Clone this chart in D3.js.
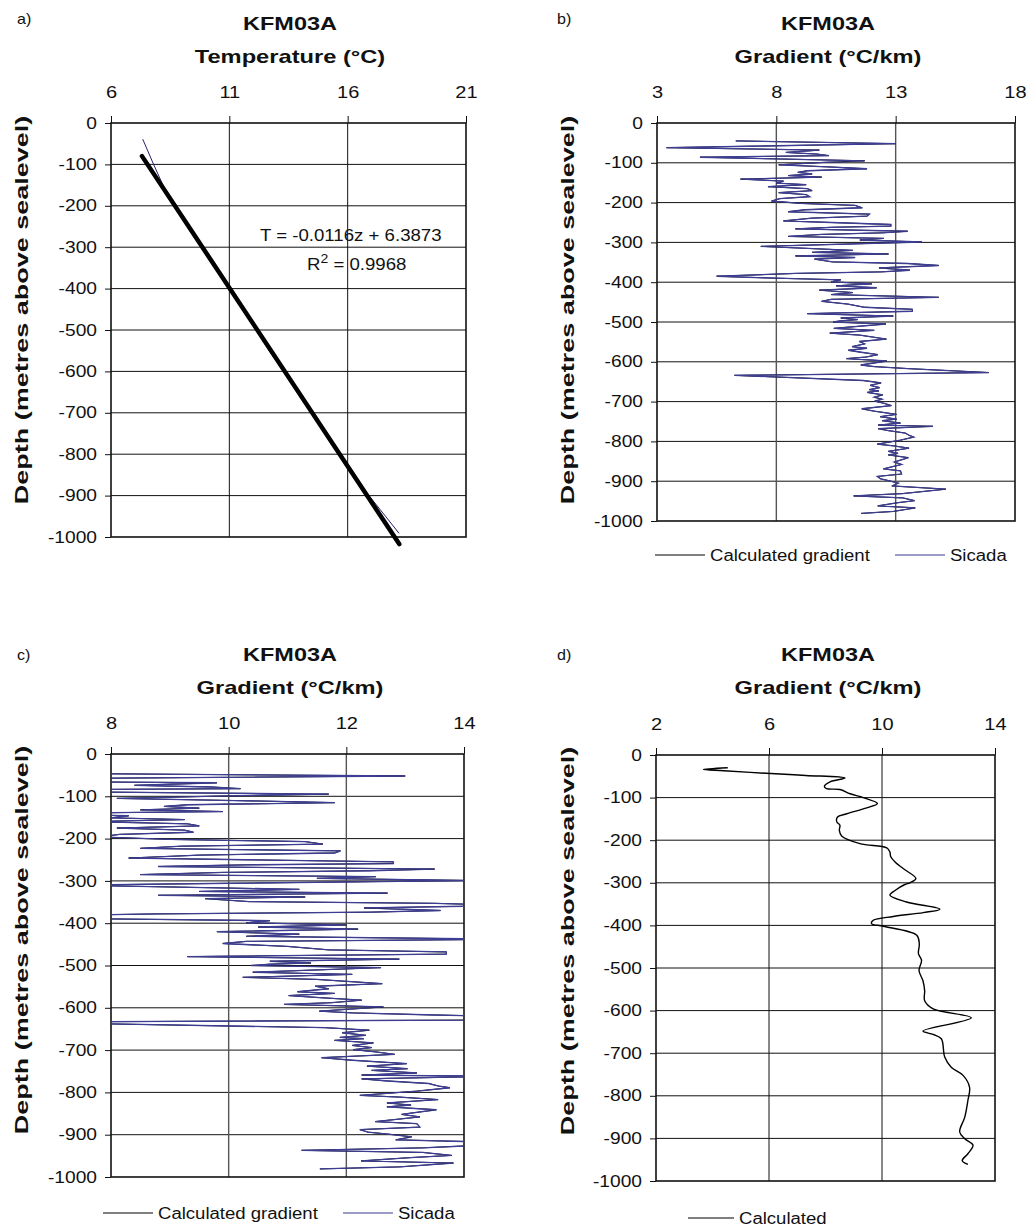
<!DOCTYPE html>
<html>
<head>
<meta charset="utf-8">
<script src="https://cdn.jsdelivr.net/npm/d3@7"></script>
<style>
  body { margin: 0; background: #fff; }
  svg text { font-family: "Liberation Sans", Arial, sans-serif; fill: #111; }
</style>
</head>
<body>
<svg id="chart" width="1027" height="1229"></svg>
<script>
// ---- data ----
const depthTicks = [0, -100, -200, -300, -400, -500, -600, -700, -800, -900, -1000];
const tempTicks = [6, 11, 16, 21];
const gradTicksB = [3, 8, 13, 18];
const gradTicksC = [8, 10, 12, 14];
const gradTicksD = [2, 6, 10, 14];

// a) measured temperature (thin) and fitted line (thick)
const tempDepth = [-39, -100, -162, -230, -300, -400, -500, -560, -637, -700, -760, -830, -900, -950, -991];
const tempMeasured = [7.34, 7.8, 8.29, 9.05, 9.85, 10.97, 12.12, 12.8, 13.72, 14.45, 15.18, 15.99, 16.9, 17.6, 18.17];
const trendDepth = [-80, -1017];
const trendTemp = [7.31, 18.18];

// b) and c) gradient from Sicada / calculated (same logging run)
const gradDepth = [
  -45, -52, -62, -68, -74, -78, -82, -86, -95, -99, -105, -110, -115, -120, -124, -128, -132, -136,
  -141, -146, -151, -155, -160, -165, -170, -175, -180, -185, -190, -196, -202, -207, -213, -218,
  -223, -229, -234, -239, -246, -250, -255, -259, -262, -266, -272, -276, -280, -285, -290, -294,
  -299, -310, -320, -325, -329, -334, -338, -342, -349, -353, -358, -364, -370, -374, -378, -385,
  -390, -394, -399, -404, -409, -414, -420, -426, -431, -438, -443, -448, -455, -463, -468, -473,
  -479, -485, -490, -494, -497, -500, -505, -516, -521, -528, -533, -543, -549, -555, -562, -566,
  -571, -576, -582, -588, -592, -598, -608, -612, -617, -627, -634, -647, -653, -659, -665, -670,
  -673, -677, -683, -689, -694, -699, -704, -710, -718, -724, -732, -738, -744, -748, -754, -759,
  -762, -768, -773, -779, -785, -789, -797, -807, -811, -817, -825, -830, -834, -841, -852, -858,
  -869, -874, -882, -888, -894, -899, -905, -912, -920, -931, -937, -942, -949, -954, -962, -967,
  -976, -981
];
const gradSicada = [
  6.3, 13.0, 3.4, 9.8, 8.4, 9.7, 10.2, 4.8, 11.7, 10.0, 8.1, 10.1, 11.8, 9.3, 8.9, 9.5, 8.5, 9.9,
  6.5, 8.3, 8.0, 9.25, 7.65, 9.3, 9.5, 8.1, 9.25, 9.4, 8.15, 7.8, 9.0, 11.3, 11.6, 9.2,
  8.5, 11.9, 11.8, 9.5, 8.3, 10.3, 12.8, 12.8, 10.3, 8.8, 13.5, 12.4, 9.9, 8.5, 12.5, 11.5,
  14.1, 7.35, 11.2, 9.5, 12.7, 8.8, 11.3, 9.6, 10.35, 13.5, 14.8, 12.3, 13.6, 12.4, 8.8, 5.5,
  8.0, 10.7, 10.3, 12.0, 10.5, 12.2, 9.8, 11.2, 10.3, 14.8, 10.3, 9.9, 11.0, 11.7, 13.7, 13.7,
  9.3, 12.9, 10.7, 11.4, 10.7, 10.38, 12.59, 10.41, 12.1, 10.24, 11.5, 12.61, 11.47, 11.7, 11.17, 11.8,
  11.02, 11.55, 12.26, 11.75, 10.94, 12.63, 11.54, 12.1, 13.5, 16.9, 6.25, 11.64, 12.39, 11.93, 12.33, 11.89,
  12.3, 11.8, 12.46, 12.1, 12.43, 12.12, 12.49, 12.82, 11.58, 12.1, 13.03, 12.35, 13.04, 12.43, 13.2, 12.26,
  14.56, 12.26, 12.7, 13.4, 13.57, 13.76, 13.2, 12.23, 12.9, 13.56, 12.69, 13.1, 12.69, 13.53, 12.94, 13.25,
  12.49, 13.2, 13.25, 12.23, 12.37, 12.74, 13.11, 12.84, 15.1, 13.3, 11.24, 13.3, 13.79, 13.1, 12.25, 13.82,
  12.91, 11.55
];

// d) smoothed calculated gradient
const smoothDepth = [
  -30, -34, -37, -43, -48, -54, -63, -74, -79, -81, -91, -100, -114, -124, -138, -146, -157, -165,
  -177, -190, -208, -218, -228, -239, -251, -267, -290, -300, -304, -318, -329, -345, -362, -370,
  -379, -388, -396, -402, -423, -443, -466, -482, -506, -530, -553, -577, -596, -617, -648, -656,
  -666, -709, -733, -752, -780, -811, -850, -885, -901, -916, -936, -952, -961
];
const smoothGrad = [
  4.54, 3.68, 4.4, 5.9, 7.3, 8.69, 8.16, 7.96, 8.04, 8.51, 8.87, 9.34, 9.84, 9.46, 8.75, 8.42, 8.4, 8.51,
  8.49, 8.57, 9.22, 10.17, 10.28, 10.31, 10.46, 10.76, 11.2, 10.99, 10.81, 10.46, 10.28, 10.87, 12.05, 11.46,
  10.4, 9.69, 9.63, 10.05, 11.23, 11.32, 11.29, 11.4, 11.31, 11.45, 11.51, 11.51, 11.81, 13.16, 11.45, 11.81,
  12.1, 12.22, 12.45, 12.87, 13.1, 13.04, 12.93, 12.75, 12.93, 13.22, 13.04, 12.84, 13.04
];

const sicadaColor = "#3d3d94";
const svg = d3.select("#chart");

// place a text with a horizontal stretch (the original lettering is wider than Arial)
function label(g, x, y, str, opt) {
  opt = opt || {};
  const t = g.append("text")
    .attr("transform", `translate(${x},${y})` + (opt.rotate ? ` rotate(${opt.rotate})` : "") + ` scale(${opt.sx || 1},1)`)
    .attr("text-anchor", opt.anchor || "start")
    .style("font-size", (opt.size || 16) + "px")
    .style("font-weight", opt.bold ? "bold" : "normal")
    .text(str);
  return t;
}

function panel(cfg) {
  const x = d3.scaleLinear().domain(cfg.xDomain).range([cfg.left, cfg.right]);
  const y = d3.scaleLinear().domain([0, -1000]).range([cfg.top, cfg.bottom]);
  const g = svg.append("g");

  // grid
  g.append("g").selectAll("line").data(depthTicks.slice(1, -1)).join("line")
    .attr("x1", cfg.left).attr("x2", cfg.right)
    .attr("y1", d => y(d)).attr("y2", d => y(d))
    .attr("stroke", "#111").attr("stroke-width", 1);
  g.append("g").selectAll("line").data(cfg.xTicks.slice(1, -1)).join("line")
    .attr("x1", d => x(d)).attr("x2", d => x(d))
    .attr("y1", cfg.top).attr("y2", cfg.bottom)
    .attr("stroke", cfg.vGrid || "#111").attr("stroke-width", cfg.vGridW || 1);

  // axes (tick marks outside the frame + labels)
  const ax = g.append("g").attr("transform", `translate(0,${cfg.top})`)
    .call(d3.axisTop(x).tickValues(cfg.xTicks).tickSizeInner(7).tickSizeOuter(0).tickFormat(d => String(d)));
  const ay = g.append("g").attr("transform", `translate(${cfg.left},0)`)
    .call(d3.axisLeft(y).tickValues(depthTicks).tickSizeInner(6).tickSizeOuter(0).tickFormat(d => String(d)));
  [ax, ay].forEach(a => {
    a.select(".domain").remove();
    a.selectAll(".tick line").attr("stroke", "#111").attr("stroke-width", 1);
    a.selectAll("text").style("font-size", "16px").style("font-family", '"Liberation Sans", Arial, sans-serif').attr("fill", "#111");
  });
  ax.selectAll("text").attr("y", 0).attr("dy", 0).attr("transform", "translate(0,-25) scale(1.25,1)");
  ay.selectAll("text").attr("x", 0).attr("transform", "translate(-14,0) scale(1.2,1)");

  // frame
  g.append("rect").attr("x", cfg.left).attr("y", cfg.top)
    .attr("width", cfg.right - cfg.left).attr("height", cfg.bottom - cfg.top)
    .attr("fill", "none").attr("stroke", "#111").attr("stroke-width", 1.6);

  // titles
  label(g, cfg.letterX, cfg.letterY, cfg.letter, { size: 14, sx: 1.15 });
  label(g, cfg.titleX, cfg.titleY, "KFM03A", { size: 18.5, bold: true, anchor: "middle", sx: 1.27 });
  label(g, cfg.titleX, cfg.titleY + 33, cfg.xTitle, { size: 18.5, bold: true, anchor: "middle", sx: 1.28 });
  label(g, cfg.yTitleX, cfg.yTitleY, "Depth (metres above sealevel)", { size: 19, bold: true, anchor: "middle", rotate: -90, sx: 1.42 });

  // clip for data
  const id = "clip" + cfg.letter[0];
  g.append("clipPath").attr("id", id).append("rect")
    .attr("x", cfg.left).attr("y", cfg.top).attr("width", cfg.right - cfg.left).attr("height", cfg.bottom - cfg.top);
  const plot = g.append("g").attr("clip-path", `url(#${id})`);
  return { x, y, g, plot };
}

function legendItem(g, x1, x2, y, color, str) {
  g.append("line").attr("x1", x1).attr("x2", x2).attr("y1", y).attr("y2", y)
    .attr("stroke", color).attr("stroke-width", 1.2);
  label(g, x2 + 5, y + 6, str, { size: 16, sx: 1.16 });
}

// ---- a) temperature ----
const pa = panel({ left: 111, right: 466, top: 123, bottom: 537, xDomain: [6, 21], xTicks: tempTicks,
  letter: "a)", letterX: 17, letterY: 24, titleX: 290, titleY: 30, xTitle: "Temperature (°C)",
  yTitleX: 28, yTitleY: 310 });
const tempPts = tempDepth.map((d, i) => [tempMeasured[i], d]);
const trendPts = trendDepth.map((d, i) => [trendTemp[i], d]);
pa.g.append("path").datum(tempPts)
  .attr("d", d3.line().x(d => pa.x(d[0])).y(d => pa.y(d[1])))
  .attr("fill", "none").attr("stroke", "#2c1f6e").attr("stroke-width", 1);
pa.g.append("path").datum(trendPts)
  .attr("d", d3.line().x(d => pa.x(d[0])).y(d => pa.y(d[1])))
  .attr("fill", "none").attr("stroke", "#000").attr("stroke-width", 4.5).attr("stroke-linecap", "round");
label(pa.g, 260, 241, "T = -0.0116z + 6.3873", { size: 16, sx: 1.165 });
const r2 = label(pa.g, 307, 270, "", { size: 16, sx: 1.165 });
r2.append("tspan").text("R");
r2.append("tspan").attr("dy", -7).style("font-size", "12px").text("2");
r2.append("tspan").attr("dy", 7).text(" = 0.9968");

// ---- b) gradient full range ----
const gradPts = gradDepth.map((d, i) => [gradSicada[i], d]);
const pb = panel({ left: 657, right: 1015, top: 123, bottom: 521, xDomain: [3, 18], xTicks: gradTicksB,
  letter: "b)", letterX: 557, letterY: 24, titleX: 828, titleY: 30, xTitle: "Gradient (°C/km)",
  yTitleX: 574, yTitleY: 310, vGrid: "#555", vGridW: 1.4 });
const lineB = d3.line().x(d => pb.x(d[0])).y(d => pb.y(d[1]));
pb.plot.append("path").datum(gradPts).attr("d", lineB).attr("fill", "none").attr("stroke", "#000").attr("stroke-width", 1);
pb.plot.append("path").datum(gradPts).attr("d", lineB).attr("fill", "none").attr("stroke", sicadaColor).attr("stroke-width", 1.3);
legendItem(pb.g, 655, 705, 555, "#000", "Calculated gradient");
legendItem(pb.g, 895, 945, 555, sicadaColor, "Sicada");

// ---- c) gradient zoomed ----
const pc = panel({ left: 111, right: 464, top: 754, bottom: 1177, xDomain: [8, 14], xTicks: gradTicksC,
  letter: "c)", letterX: 17, letterY: 660, titleX: 290, titleY: 661, xTitle: "Gradient (°C/km)",
  yTitleX: 28, yTitleY: 940, vGrid: "#555", vGridW: 1.4 });
const lineC = d3.line().x(d => pc.x(d[0])).y(d => pc.y(d[1]));
pc.plot.append("path").datum(gradPts).attr("d", lineC).attr("fill", "none").attr("stroke", "#000").attr("stroke-width", 1);
pc.plot.append("path").datum(gradPts).attr("d", lineC).attr("fill", "none").attr("stroke", sicadaColor).attr("stroke-width", 1.3);
legendItem(pc.g, 103, 153, 1213, "#000", "Calculated gradient");
legendItem(pc.g, 343, 393, 1213, sicadaColor, "Sicada");

// ---- d) smoothed ----
const pd = panel({ left: 656, right: 995, top: 755, bottom: 1181, xDomain: [2, 14], xTicks: gradTicksD,
  letter: "d)", letterX: 557, letterY: 660, titleX: 828, titleY: 661, xTitle: "Gradient (°C/km)",
  yTitleX: 574, yTitleY: 941 });
const smoothPts = smoothDepth.map((d, i) => [smoothGrad[i], d]);
pd.plot.append("path").datum(smoothPts)
  .attr("d", d3.line().x(d => pd.x(d[0])).y(d => pd.y(d[1])).curve(d3.curveCatmullRom))
  .attr("fill", "none").attr("stroke", "#000").attr("stroke-width", 1.4);
legendItem(pd.g, 688, 734, 1218, "#000", "Calculated");
</script>
</body>
</html>
